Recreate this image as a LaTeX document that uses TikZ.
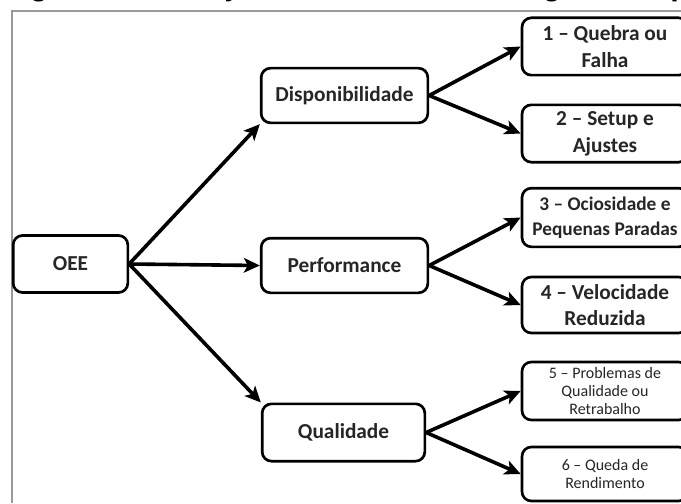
\documentclass[tikz,border=0pt]{standalone}
\usepackage{fontspec}
\setmainfont{Carlito}
\newfontfamily\capfont{Liberation Sans}
\usetikzlibrary{arrows.meta}
\begin{document}
\begin{tikzpicture}[x=0.75pt,y=-0.75pt,
  box/.style={draw=black, line width=2pt, rounded corners=7pt, fill=white, align=center,
    font=\bfseries\fontsize{16}{20}\selectfont, inner sep=0pt, text=black!85},
  sbox/.style={box, font=\fontsize{12}{13.5}\selectfont},
  arr/.style={line width=2.7pt, -{Stealth[length=12pt,width=11pt,inset=3pt]}}]
\useasboundingbox (0,0) rectangle (681,503);
\fill[white] (0,0) rectangle (681,503);
\node[anchor=base west, inner sep=0pt, font=\capfont\bfseries\fontsize{23}{25}\selectfont] (cap) at (2,-4) {Figura 1 – Relação entre o OEE, as 6 grandes perdas e os pilares};
\draw[black!40, line width=1.5pt] (12,503) -- (12,11) -- (681,11);
\node[box, minimum width=86pt, minimum height=42.75pt] (oee) at (70.5,264) {OEE};
\node[box, minimum width=125pt, minimum height=41pt] (disp) at (344.5,95.5) {Disponibilidade};
\node[box, minimum width=125pt, minimum height=41pt] (perf) at (344.5,265.5) {Performance};
\node[box, minimum width=122pt, minimum height=43pt] (qual) at (343.5,432.5) {Qualidade};
\node[box, minimum width=124.5pt, minimum height=43pt] (b1) at (605,46.5) {1 – Quebra ou\\Falha};
\node[box, minimum width=124.5pt, minimum height=43pt] (b2) at (605,133.5) {2 – Setup e\\Ajustes};
\node[box, minimum width=124.5pt, minimum height=44pt, font=\bfseries\fontsize{14.5}{19}\selectfont] (b3) at (605,217.5) {3 – Ociosidade e\\Pequenas Paradas};
\node[box, minimum width=124.5pt, minimum height=42pt] (b4) at (605,305) {4 – Velocidade\\Reduzida};
\node[sbox, minimum width=124.5pt, minimum height=43.5pt] (b5) at (605,391) {5 – Problemas de\\Qualidade ou\\Retrabalho};
\node[sbox, minimum width=124.5pt, minimum height=40.5pt] (b6) at (605,474) {6 – Queda de\\Rendimento};
\draw[arr] (oee.east) -- (disp.south west);
\draw[arr] (oee.east) -- (perf.west);
\draw[arr] (oee.east) -- (qual.north west);
\draw[arr] (disp.east) -- (b1.west);
\draw[arr] (disp.east) -- (b2.west);
\draw[arr] (perf.east) -- (b3.west);
\draw[arr] (perf.east) -- (b4.west);
\draw[arr] (qual.east) -- (b5.west);
\draw[arr] (qual.east) -- (b6.west);
\end{tikzpicture}
\end{document}
